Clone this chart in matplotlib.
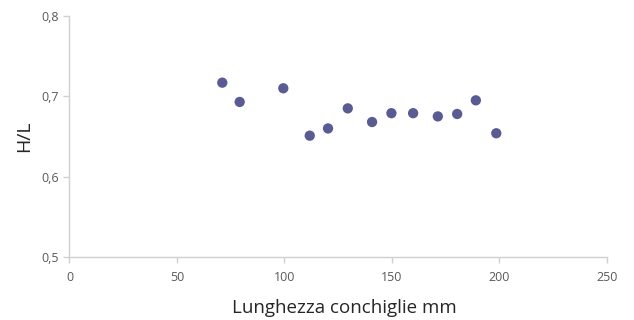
import matplotlib
matplotlib.use("Agg")
import matplotlib.pyplot as plt
from matplotlib.ticker import FuncFormatter

lengths = [71.1, 79.2, 99.5, 111.8, 120.3, 129.5, 140.8, 149.8, 159.9, 171.4, 180.4, 189.1, 198.6]
ratios = [0.717, 0.693, 0.710, 0.651, 0.660, 0.685, 0.668, 0.679, 0.679, 0.675, 0.678, 0.695, 0.654]
x_ticks = [0, 50, 100, 150, 200, 250]
y_ticks = [0.5, 0.6, 0.7, 0.8]

plt.rcParams['font.family'] = ['Open Sans', 'DejaVu Sans']
fig = plt.figure(figsize=(6.34, 3.2), dpi=100)
ax = fig.add_axes([0.1096, 0.197, 0.8474, 0.753])
ax.scatter(lengths, ratios, s=55, color='#5b5b94', edgecolors='none', zorder=3)
ax.set_xlim(0, 250)
ax.set_ylim(0.5, 0.8)
ax.set_xticks(x_ticks)
ax.set_yticks(y_ticks)
ax.yaxis.set_major_formatter(FuncFormatter(lambda v, p: f"{v:.1f}".replace('.', ',')))
for s in ['top', 'right']:
    ax.spines[s].set_visible(False)
for s in ['left', 'bottom']:
    ax.spines[s].set_color('#d0d0d0')
    ax.spines[s].set_linewidth(1)
ax.tick_params(axis='both', colors='#d0d0d0', labelcolor='#595959', labelsize=9, length=4, width=1)
ax.tick_params(axis='x', pad=6)
ax.set_xlabel('Lunghezza conchiglie mm', fontsize=13.5, color='#262626')
ax.xaxis.set_label_coords(0.511, -0.232)
ax.xaxis.label.set_va('baseline')
ax.set_ylabel('H/L', fontsize=14, color='#262626', labelpad=6)
fig.savefig('out.png', dpi=100)
